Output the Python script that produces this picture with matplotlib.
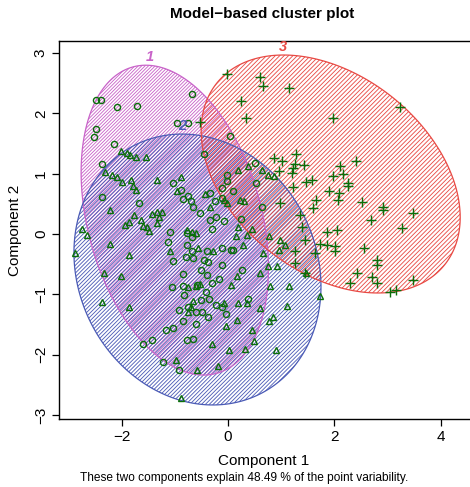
import numpy as np
import matplotlib
matplotlib.use("Agg")
import matplotlib.pyplot as plt
from matplotlib.patches import Polygon
from matplotlib.collections import LineCollection
from matplotlib.transforms import IdentityTransform

plt.rcParams['font.family'] = ['Liberation Sans', 'DejaVu Sans']

# ---- observations projected on the first two principal components ----
clus1_x = [-2.49, -2.38, -2.09, -1.71, -0.68, -0.96, -0.75, -2.49, -2.51, -2.14,
           0.04, -0.46, -2.36, -2.37, -1.67, -1.03, -0.88, -0.84, -0.75, -0.70,
           -0.65, -0.53, -0.34, -0.24, -0.12, -0.12, 0.09, 0.25, -0.34, -0.23,
           -0.07, -0.30, -1.09, -0.78, -0.67, -0.40, -0.12, 0.05, -0.01, -0.02,
           0.53, 0.64, -1.59, -1.42, -0.85, -1.06, -0.83, -0.51, -0.39, -0.31,
           -0.16, -0.12, -0.42, -0.51, -0.36, -0.92, -0.60, -0.48, -0.37, -0.61,
           -0.84, -1.17, -1.04, -0.78, -0.65, -0.23, -0.12, -0.04, -1.22, -0.93,
           -1.04, -0.37, -1.12, -0.78, -0.68, -0.65, -0.45, -0.85, -0.59, 0.26,
           0.38, 0.10, -0.76, 0.51, -0.79]
clus1_y = [2.22, 2.22, 2.11, 2.12, 2.32, 1.84, 1.84, 1.74, 1.61, 1.50,
           1.63, 1.33, 1.16, 0.61, 0.52, 0.85, 0.73, 0.58, 0.63, 0.55,
           0.44, 0.34, 0.68, 0.55, 0.77, 0.60, 0.71, 0.25, 0.24, 0.29,
           0.22, 0.09, 0.04, -0.18, -0.29, -0.28, -0.24, -0.27, 0.88, 0.98,
           0.85, 0.45, -1.83, -1.75, -0.67, -0.88, -1.01, -0.60, -0.68, -0.81,
           -0.75, -0.51, -0.97, -1.09, -1.07, -1.26, -1.30, -1.30, -1.37, -1.50,
           -1.44, -1.59, -1.56, -1.75, -1.74, -1.17, -1.21, -1.33, -2.12, -2.25,
           -0.45, -0.46, -0.13, 0.01, -0.05, -0.40, -0.43, -0.87, -0.85, -0.60,
           -1.08, -0.27, -1.21, 1.18, -0.38]

clus2_x = [-2.02, -1.89, -1.84, -1.72, -1.54, -2.31, -2.18, -2.09, -2.00, -1.83,
           -1.78, -1.72, -1.33, -2.21, -1.76, -1.87, -1.94, -1.64, -1.60, -1.52,
           -1.48, -1.42, -1.33, -1.33, -2.75, -2.65, -2.88, -2.22, -1.86, -0.88,
           -0.96, -0.43, -0.34, -0.08, -0.02, 0.19, 0.23, 0.30, 0.19, 0.15,
           0.35, 0.28, -0.78, -0.68, -0.60, -1.09, -0.56, -0.28, -1.25, 0.38,
           0.63, 0.76, 0.86, 0.46, 0.77, 0.98, 1.07, 0.66, 0.96, -2.34,
           -2.02, -2.36, -1.87, -0.76, -0.61, -0.53, -0.66, -0.70, -0.75, -0.07,
           0.19, 0.17, 0.05, 0.16, -0.04, -0.31, 0.02, 0.32, -0.98, -0.59,
           -0.19, -0.89, 0.36, 0.76, 0.92, 0.61, 0.79, 1.15, 0.61, 1.10,
           0.84, 0.78, 0.45, 0.48, 0.90, 1.73, 1.46, -1.29]
clus2_y = [1.38, 1.35, 1.31, 1.28, 1.28, 1.03, 0.98, 0.95, 0.86, 0.90,
           0.80, 0.73, 0.90, 0.40, 0.32, 0.20, 0.15, 0.24, 0.13, 0.12,
           0.05, 0.33, 0.37, 0.18, 0.09, -0.02, -0.32, -0.17, -0.35, 0.95,
           0.71, 0.67, 0.44, 0.56, 0.51, 1.06, 0.56, 0.54, 0.12, -0.04,
           -0.02, -0.18, 0.07, 0.04, 0.02, -0.29, -0.24, -0.29, 0.37, 1.12,
           1.06, 0.98, 0.96, 0.09, -0.03, -0.10, -0.18, -0.32, -0.27, -0.65,
           -0.69, -1.13, -1.21, -0.88, -0.87, -0.83, -1.11, -1.21, -1.29, -1.14,
           -1.15, -0.70, -0.85, -1.43, -1.53, -1.82, -1.93, -1.91, -2.09, -2.25,
           -2.19, -2.72, -1.14, -0.53, -0.53, -0.65, -0.87, -0.87, -1.22, -1.19,
           -1.38, -1.45, -1.59, -1.77, -1.93, -1.03, -0.65, 0.28]

clus3_x = [-0.02, 0.61, 0.66, 1.15, 0.24, 0.34, -0.52, 1.98, 3.23, 1.28,
           0.86, 1.01, 1.25, 1.43, 1.23, 2.40, 1.20, 0.96, 2.11, 1.98,
           2.16, 1.47, 1.58, 1.22, 1.89, 2.09, 2.26, 2.25, 2.07, 1.65,
           1.60, 2.52, 2.92, 2.92, 2.69, 3.47, 3.27, 1.87, 2.04, 1.73,
           1.87, 2.01, 2.01, 2.56, 2.80, 2.80, 2.43, 2.71, 2.80, 2.30,
           3.48, 3.04, 3.16, 0.98, 1.64, 1.26, 1.45, 1.45, 1.35, 1.39,
           1.26]
clus3_y = [2.65, 2.61, 2.45, 2.42, 2.21, 1.93, 1.86, 1.92, 2.11, 1.33,
           1.26, 1.21, 1.16, 1.14, 1.09, 1.21, 1.01, 1.05, 1.13, 0.97,
           0.99, 0.87, 0.90, 0.78, 0.72, 0.68, 0.84, 0.79, 0.56, 0.56,
           0.43, 0.53, 0.45, 0.40, 0.24, 0.35, 0.10, 0.04, 0.07, -0.16,
           -0.18, -0.20, -0.29, -0.23, -0.43, -0.52, -0.65, -0.72, -0.81, -0.81,
           -0.76, -0.96, -0.93, 0.52, -0.32, -0.48, -0.65, -0.10, 0.32, 0.12,
           -0.29]

# ---- spanning ellipses: centre and shape matrix per cluster ----
ell_centers = [(-1.00, 0.23), (-0.574, -0.589), (1.93, 0.995)]
ell_shapes = [[[3.10, -1.40], [-1.40, 6.60]],
              [[5.39, -0.65], [-0.65, 5.045]],
              [[5.926, -1.75], [-1.75, 3.893]]]
clus_names = ["1", "2", "3"]
label_pos = [(-1.47, 2.93), (-0.85, 1.79), (1.03, 3.10)]

clus_colors = ["#c963c9", "#4b5bb6", "#e84a44"]
hatch_gap = [3.4, 3.9, 4.4]       # horizontal spacing of shading lines, px
point_color = "#0a6e0a"
point_markers = ["o", "^", "+"]
point_sizes = [4.4, 5.0, 7.0]

W, H, DPI = 470, 487, 100
fig = plt.figure(figsize=(W / DPI, H / DPI), dpi=DPI)
ax_l, ax_r, ax_t, ax_b = 59, 472, 41, 419
ax = fig.add_axes([ax_l / W, (H - ax_b) / H, (ax_r - ax_l) / W, (ax_b - ax_t) / H])
x0 = 228.0
xs = 53.2
y0 = 234.0
ys = 60.3
ax.set_xlim((ax_l - x0) / xs, (ax_r - x0) / xs)
ax.set_ylim((y0 - ax_b) / ys, (y0 - ax_t) / ys)

fig.canvas.draw()

t = np.linspace(0, 2 * np.pi, 400)
for c, A, col, gap in zip(ell_centers, ell_shapes, clus_colors, hatch_gap):
    L = np.linalg.cholesky(np.array(A))
    pts = np.array(c)[:, None] + L @ np.vstack([np.cos(t), np.sin(t)])
    poly = Polygon(pts.T, closed=True, fill=False, edgecolor=col, lw=0.9, zorder=2)
    ax.add_patch(poly)
    # diagonal shading lines in display space, clipped to the ellipse
    disp = ax.transData.transform(pts.T)
    xmin, ymin = disp.min(axis=0)
    xmax, ymax = disp.max(axis=0)
    segs = []
    span = ymax - ymin
    k = xmin - span
    while k < xmax:
        segs.append([(k, ymin), (k + span, ymax)])
        k += gap
    lc = LineCollection(segs, colors=col, linewidths=0.62, transform=IdentityTransform(), zorder=1)
    ax.add_collection(lc)
    lc.set_clip_path(poly)

for name, (lx, ly), col in zip(clus_names, label_pos, clus_colors):
    ax.text(lx, ly, name, color=col, fontsize=10.5, fontstyle="italic", fontweight="bold",
            ha="center", va="center", zorder=4)

for xv, yv, m, s in zip([clus1_x, clus2_x, clus3_x], [clus1_y, clus2_y, clus3_y],
                        point_markers, point_sizes):
    if m == "+":
        ax.plot(xv, yv, linestyle="none", marker=m, ms=s, mew=1.0, color=point_color, zorder=3)
    else:
        ax.plot(xv, yv, linestyle="none", marker=m, ms=s, mew=1.0, mfc="none",
                mec=point_color, zorder=3)

xticks = [-2, 0, 2, 4]
yticks = [-3, -2, -1, 0, 1, 2, 3]
ax.set_xticks(xticks)
ax.set_xticklabels([str(v).replace("-", "\u2212") for v in xticks], fontsize=11)
ax.set_yticks(yticks)
ax.set_yticklabels([str(v).replace("-", "\u2212") for v in yticks], fontsize=11,
                   rotation=90, va="center")
ax.tick_params(direction="out", length=5, width=0.9, pad=3)
for sp in ax.spines.values():
    sp.set_linewidth(1.0)
ax.spines["right"].set_visible(False)

fig.text(262 / W, 1 - 14 / H, "Model\u2212based cluster plot", ha="center", va="center",
         fontsize=11, fontweight="bold")
fig.text(264 / W, 1 - 461 / H, "Component 1", ha="center", va="center", fontsize=11)
fig.text(15 / W, 1 - 230 / H, "Component 2", ha="center", va="center", fontsize=11, rotation=90)
fig.text(244 / W, 1 - 478 / H, "These two components explain 48.49 % of the point variability.",
         ha="center", va="center", fontsize=8.6)

fig.savefig("out.png", dpi=DPI)
